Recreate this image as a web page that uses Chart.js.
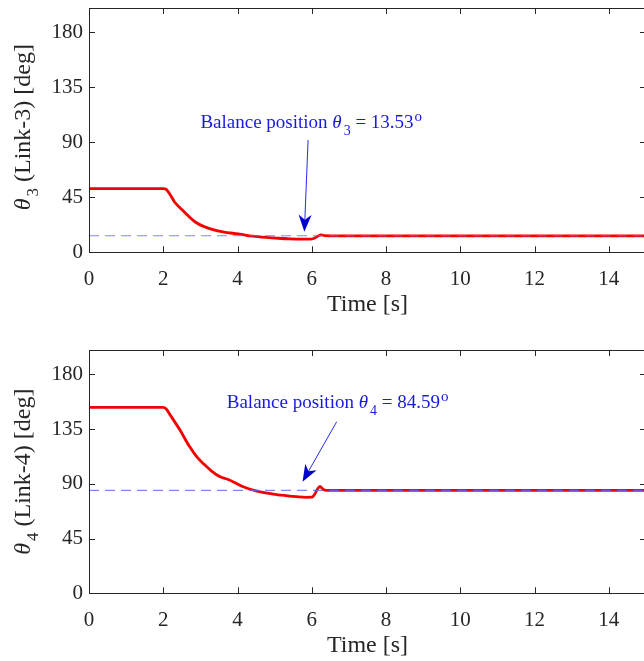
<!DOCTYPE html>
<html><head><meta charset="utf-8">
<script src="https://cdn.jsdelivr.net/npm/chart.js@4"></script>
<style>
html,body{margin:0;padding:0;background:#fff;overflow:hidden;width:644px;height:661px;}
canvas{position:absolute;left:0;}
#c1{top:0px}
#c2{top:340px}
</style></head><body>
<canvas id="c1" width="660" height="330"></canvas>
<canvas id="c2" width="660" height="321"></canvas>
<script>
// ---- data ----
const xTicks = [0, 2, 4, 6, 8, 10, 12, 14];
const yTicks = [0, 45, 90, 135, 180];

const timeTheta3 = [0, 2.0, 2.08, 2.2, 2.31, 2.5, 2.7, 2.85, 3.1, 3.44, 3.8, 4.06, 4.4, 4.78, 5.1, 5.41, 5.7, 5.95, 6.05, 6.15, 6.25, 6.35, 6.5, 15];
const theta3     = [52.2, 52.2, 51.5, 46.5, 41.0, 35.0, 29.0, 25.0, 21.0, 17.8, 15.8, 14.8, 13.3, 12.2, 11.5, 11.0, 10.8, 10.8, 11.3, 13.0, 14.3, 13.6, 13.5, 13.5];

const timeTheta4 = [0, 2.0, 2.08, 2.2, 2.45, 2.7, 2.9, 3.1, 3.3, 3.53, 3.75, 4.15, 4.5, 4.96, 5.3, 5.59, 5.85, 6.0, 6.08, 6.15, 6.22, 6.3, 6.4, 15];
const theta4     = [152.8, 152.8, 151.5, 146.0, 134.2, 121.0, 112.3, 106.0, 100.5, 95.8, 93.5, 87.6, 84.2, 81.6, 80.3, 79.4, 78.9, 79.0, 81.5, 85.5, 87.8, 85.5, 84.6, 84.6];

const balance3 = 13.53;
const balance4 = 84.59;

const yLabel3 = ['θ', '3', ' (Link-3) [deg]'];
const yLabel4 = ['θ', '4', ' (Link-4) [deg]'];
const xLabel = 'Time [s]';
const note3 = ['Balance position ', 'θ', '3', ' = 13.53', 'o'];
const note4 = ['Balance position ', 'θ', '4', ' = 84.59', 'o'];
// annotation anchors in data units [t, value]
const note3At = [3.0, 101.7];
const note4At = [3.71, 152.3];
const arrow3 = [[5.9, 91.9], [5.80, 16.9]];
const arrow4 = [[6.67, 141.0], [5.75, 91.7]];

// ---- drawing ----
const FONT = '"Liberation Serif","Times New Roman",serif';
const AX = '#262626';
const BLUE = 'rgb(25,25,230)';

function framePlugin(o) {
  return {
    id: 'frame',
    afterDatasetsDraw(chart) {
      const ctx = chart.ctx, a = chart.chartArea;
      const xs = chart.scales.x, ys = chart.scales.y;
      ctx.save();
      ctx.strokeStyle = AX; ctx.lineWidth = 1;
      ctx.beginPath();
      ctx.rect(Math.round(a.left) + 0.5, Math.round(a.top) + 0.5, Math.round(a.right - a.left), Math.round(a.bottom - a.top));
      ctx.stroke();
      const tl = 6;
      ctx.beginPath();
      xTicks.forEach(v => {
        const px = Math.round(xs.getPixelForValue(v)) + 0.5;
        ctx.moveTo(px, a.bottom); ctx.lineTo(px, a.bottom - tl);
        ctx.moveTo(px, a.top); ctx.lineTo(px, a.top + tl);
      });
      yTicks.forEach(v => {
        const py = Math.round(ys.getPixelForValue(v)) + 0.5;
        ctx.moveTo(a.left, py); ctx.lineTo(a.left + tl, py);
        ctx.moveTo(a.right, py); ctx.lineTo(a.right - tl, py);
      });
      ctx.stroke();

      // x title
      ctx.fillStyle = AX;
      ctx.font = '24px ' + FONT;
      ctx.textAlign = 'center'; ctx.textBaseline = 'alphabetic';
      ctx.fillText(xLabel, (a.left + a.right) / 2, a.bottom + 59);

      // y title (rotated, with subscript)
      const parts = o.yLabel;
      const f1 = 'italic 24px ' + FONT, f2 = '17px ' + FONT, f3 = '24px ' + FONT;
      ctx.font = f1; const w1 = ctx.measureText(parts[0]).width;
      ctx.font = f2; const w2 = ctx.measureText(parts[1]).width;
      ctx.font = f3; const w3 = ctx.measureText(parts[2]).width;
      const tot = w1 + w2 + w3 + 2;
      ctx.save();
      ctx.translate(30, (a.top + a.bottom) / 2 - o.yShift);
      ctx.rotate(-Math.PI / 2);
      ctx.textAlign = 'left';
      let x0 = -tot / 2;
      ctx.font = f1; ctx.fillText(parts[0], x0, 0); x0 += w1 + 2;
      ctx.font = f2; ctx.fillText(parts[1], x0, 8); x0 += w2;
      ctx.font = f3; ctx.fillText(parts[2], x0, 0);
      ctx.restore();

      // annotation text
      const n = o.note;
      let tx = xs.getPixelForValue(o.noteAt[0]);
      const ty = ys.getPixelForValue(o.noteAt[1]);
      ctx.fillStyle = BLUE;
      ctx.textAlign = 'left';
      const nf = '19px ' + FONT, nfi = 'italic 19px ' + FONT, ns = '14px ' + FONT, nsup = '15px ' + FONT;
      ctx.font = nf; ctx.fillText(n[0], tx, ty); tx += ctx.measureText(n[0]).width;
      ctx.font = nfi; ctx.fillText(n[1], tx, ty); tx += ctx.measureText(n[1]).width + 2;
      ctx.font = ns; ctx.fillText(n[2], tx, ty + 7); tx += ctx.measureText(n[2]).width;
      ctx.font = nf; ctx.fillText(n[3], tx, ty); tx += ctx.measureText(n[3]).width + 1;
      ctx.font = nsup; ctx.fillText(n[4], tx, ty - 7);

      // arrow
      const x1 = xs.getPixelForValue(o.arrow[0][0]), y1 = ys.getPixelForValue(o.arrow[0][1]);
      const x2 = xs.getPixelForValue(o.arrow[1][0]), y2 = ys.getPixelForValue(o.arrow[1][1]);
      const ang = Math.atan2(y2 - y1, x2 - x1);
      const L = 17, H = 6.5, N = 12;
      const ux = Math.cos(ang), uy = Math.sin(ang), vx = -uy, vy = ux;
      ctx.strokeStyle = 'rgb(40,40,240)'; ctx.lineWidth = 1;
      ctx.beginPath(); ctx.moveTo(x1, y1); ctx.lineTo(x2 - ux * N, y2 - uy * N); ctx.stroke();
      ctx.fillStyle = 'rgb(0,0,205)';
      ctx.beginPath();
      ctx.moveTo(x2, y2);
      ctx.lineTo(x2 - ux * L + vx * H, y2 - uy * L + vy * H);
      ctx.lineTo(x2 - ux * N, y2 - uy * N);
      ctx.lineTo(x2 - ux * L - vx * H, y2 - uy * L - vy * H);
      ctx.closePath(); ctx.fill();
      ctx.restore();
    }
  };
}

function makeChart(id, o) {
  return new Chart(document.getElementById(id), {
    type: 'line',
    data: {
      datasets: [
        {
          data: [{ x: 0, y: o.balance }, { x: 15, y: o.balance }],
          borderColor: 'rgba(100,100,255,0.8)', borderWidth: 1.2, borderDash: [10, 6],
          pointRadius: 0, fill: false
        },
        {
          data: o.t.map((t, i) => ({ x: t, y: o.v[i] })),
          borderColor: 'rgb(245,0,0)', borderWidth: 2.8,
          pointRadius: 0, fill: false, cubicInterpolationMode: 'monotone'
        }
      ]
    },
    options: {
      responsive: false, animation: false, devicePixelRatio: 1,
      layout: { padding: { top: o.padTop, right: 14, left: 0, bottom: 0 } },
      plugins: { legend: { display: false }, tooltip: { enabled: false } },
      scales: {
        x: {
          type: 'linear', min: 0, max: 15,
          afterBuildTicks: s => { s.ticks = xTicks.map(v => ({ value: v })); },
          afterFit: s => { s.height = o.xH; s.paddingLeft = 0; s.paddingRight = 0; },
          grid: { display: false, drawTicks: false }, border: { display: false },
          ticks: { font: { family: FONT, size: 21 }, color: AX, padding: 15, maxRotation: 0, autoSkip: false }
        },
        y: {
          type: 'linear', min: 0, max: 200,
          afterBuildTicks: s => { s.ticks = yTicks.map(v => ({ value: v })); },
          afterFit: s => { s.width = 89; s.paddingTop = 0; s.paddingBottom = 0; },
          grid: { display: false, drawTicks: false }, border: { display: false },
          ticks: { font: { family: FONT, size: 21 }, color: AX, padding: 6, autoSkip: false }
        }
      }
    },
    plugins: [framePlugin(o)]
  });
}

makeChart('c1', { t: timeTheta3, v: theta3, balance: balance3, padTop: 8, xH: 77.7, yShift: 3,
  yLabel: yLabel3, note: note3, noteAt: note3At, arrow: arrow3 });
makeChart('c2', { t: timeTheta4, v: theta4, balance: balance4, padTop: 10, xH: 67.7, yShift: 0,
  yLabel: yLabel4, note: note4, noteAt: note4At, arrow: arrow4 });
</script>
</body></html>
